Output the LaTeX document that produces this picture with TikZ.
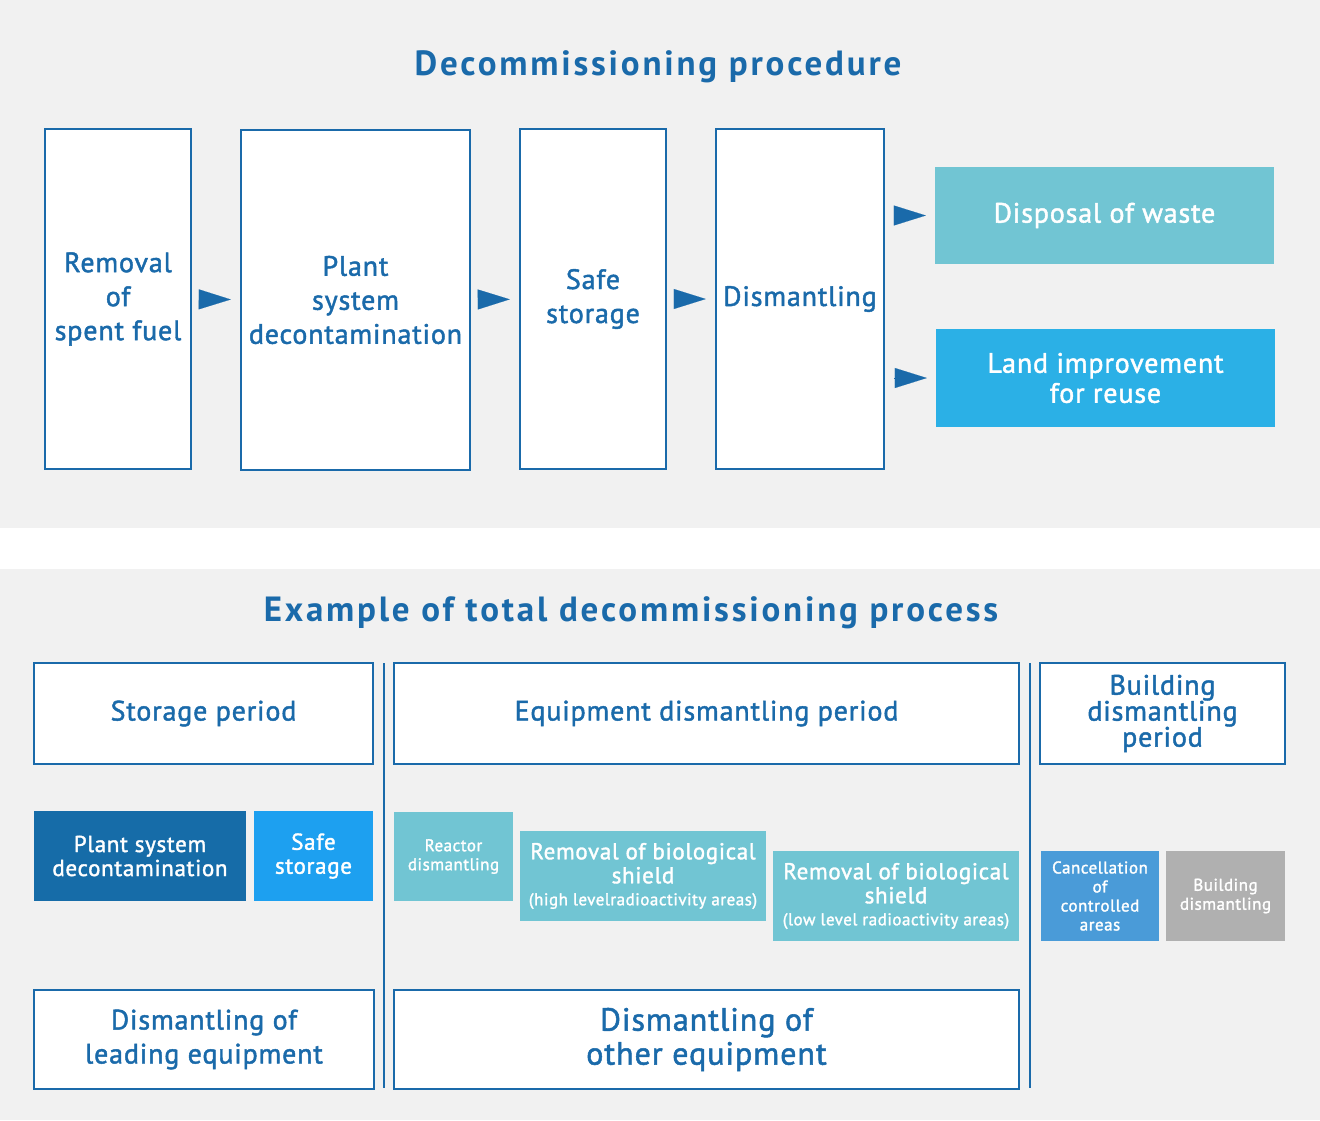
\documentclass[tikz,border=0pt]{standalone}
\usepackage{fontspec}
\setmainfont{PT Sans}[LetterSpace=3]
\newfontfamily\medfont{PT Sans}[FakeBold=1.6, LetterSpace=3]
\newfontfamily\headfont{PT Sans Bold}[LetterSpace=8]
\usetikzlibrary{arrows.meta}

\definecolor{dkblue}{HTML}{1A6AAA}
\definecolor{panel}{HTML}{F1F1F1}
\definecolor{teal}{HTML}{71C5D3}
\definecolor{sky}{HTML}{2BB0E6}
\definecolor{deep}{HTML}{166CA8}
\definecolor{bright}{HTML}{1DA0F0}
\definecolor{mid}{HTML}{4A9BD8}
\definecolor{grey}{HTML}{B0B0B0}

\newcommand{\fs}[2]{\fontsize{#1}{#2}\selectfont}

\tikzset{
  outline/.style={draw=dkblue, line width=2.5pt, fill=white, text=dkblue,
    align=center, inner sep=0pt, font=\medfont\fs{28}{34}},
  filled/.style={fill=#1, text=white, align=center, inner sep=0pt,
    font=\medfont\fs{23}{24}},
  flow/.style={-{Triangle[length=32pt,width=20pt]}, dkblue, line width=0.1pt,
    shorten <=9pt, shorten >=9pt},
  divider/.style={dkblue, line width=1.5pt},
  heading/.style={text=dkblue, font=\headfont\fs{35}{42}}
}

\begin{document}
\begin{tikzpicture}[x=1pt,y=-1pt]
\useasboundingbox (0,0) rectangle (1320,1120);
% the two grey panels
\fill[panel] (0,0) rectangle (1320,528);
\fill[panel] (0,569) rectangle (1320,1120);

% top: decommissioning procedure
\node[heading] (title1) at (658,67) {Decommissioning procedure};
\node[outline, minimum width=146, minimum height=340] (fuel) at (118,299)
  {Removal\\of\\spent fuel};
\node[outline, minimum width=229, minimum height=340] (decon) at (355.5,300)
  {Plant\\system\\decontamination};
\node[outline, minimum width=146, minimum height=340] (store) at (593,299)
  {Safe\\storage};
\node[outline, minimum width=168, minimum height=340] (dism) at (800,299)
  {Dismantling};
\node[filled=teal, font=\medfont\fs{28}{30}, minimum width=339, minimum height=97]
  (waste) at (1104.5,215.5) {Disposal of waste};
\node[filled=sky, font=\medfont\fs{28}{30}, minimum width=339, minimum height=98]
  (land) at (1105.5,378) {Land improvement\\for reuse};
\draw[flow] (fuel) -- (decon);
\draw[flow] (decon) -- (store);
\draw[flow] (store) -- (dism);
\draw[flow] (dism.east |- waste.west) -- (waste.west);
\draw[flow] (dism.east |- land.west) -- (land.west);

% bottom: example of total process
\node[heading] (title2) at (631,613) {Example of total decommissioning process};
\node[outline, minimum width=339, minimum height=101] (storper) at (203.5,713.5)
  {Storage period};
\node[outline, minimum width=625, minimum height=101] (equper) at (706.5,713.5)
  {Equipment dismantling period};
\node[outline, font=\medfont\fs{28}{26}, minimum width=245, minimum height=101]
  (bldper) at (1162.5,713.5) {Building\\dismantling\\period};
\draw[divider] (384,663) -- (384,1088);
\draw[divider] (1030,663) -- (1030,1088);

\node[filled=deep, minimum width=212, minimum height=90] (psd) at (140,856)
  {Plant system\\decontamination};
\node[filled=bright, minimum width=119, minimum height=90] (safe) at (313.5,856)
  {Safe\\storage};
\node[filled=teal, font=\medfont\fs{17}{19}, minimum width=119, minimum height=89]
  (react) at (453.5,856.5) {Reactor\\dismantling};
\node[filled=teal, minimum width=246, minimum height=90] (bioh) at (643,876)
  {Removal of biological\\shield\\[-2pt]{\fs{17}{19}(high levelradioactivity areas)}};
\node[filled=teal, minimum width=246, minimum height=90] (biol) at (896,896)
  {Removal of biological\\shield\\[-2pt]{\fs{17}{19}(low level radioactivity areas)}};
\node[filled=mid, font=\medfont\fs{17}{19}, minimum width=118, minimum height=90]
  (cancel) at (1100,896) {Cancellation\\of\\controlled\\areas};
\node[filled=grey, font=\medfont\fs{17}{19}, minimum width=119, minimum height=90]
  (bdis) at (1225.5,896) {Building\\dismantling};

\node[outline, minimum width=340, minimum height=99] (lead) at (204,1039.5)
  {Dismantling of\\leading equipment};
\node[outline, font=\medfont\fs{32}{34}, minimum width=625, minimum height=99]
  (other) at (706.5,1039.5) {Dismantling of\\other equipment};
\end{tikzpicture}
\end{document}
